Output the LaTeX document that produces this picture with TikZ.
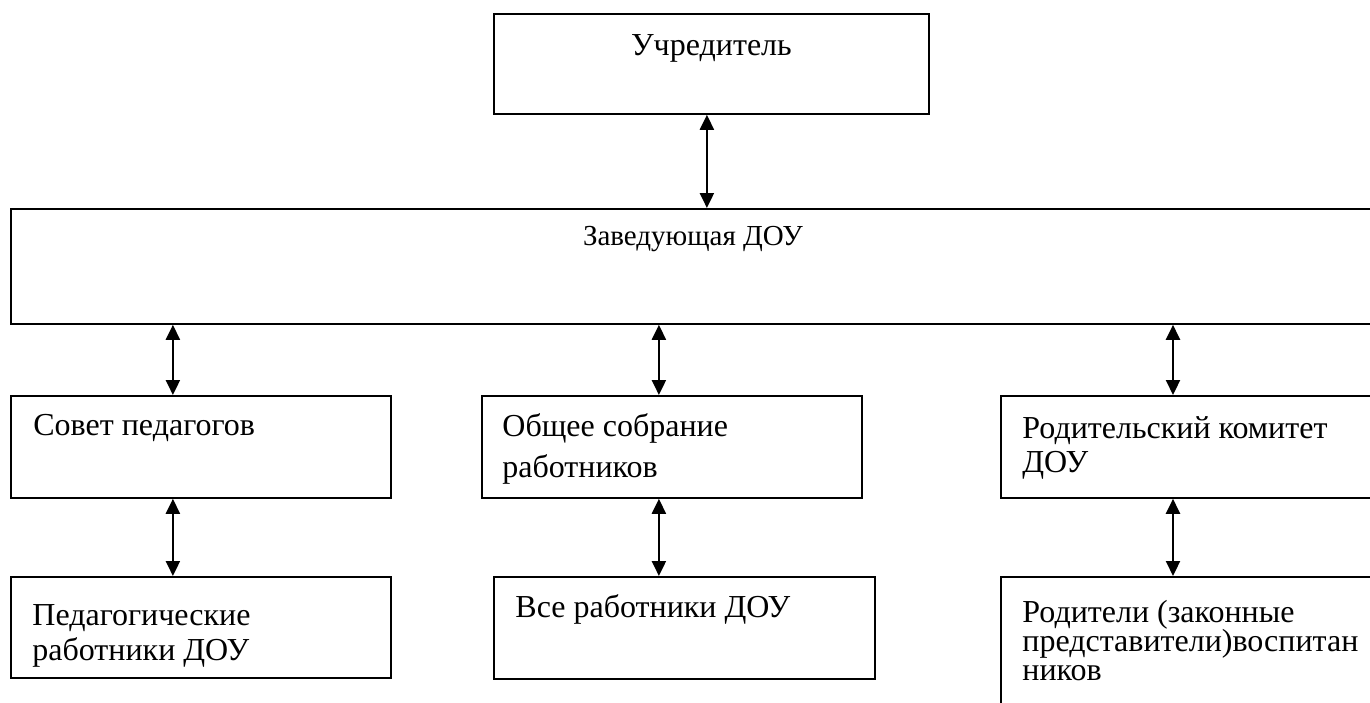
\documentclass[tikz,border=0pt]{standalone}
\usepackage{fontspec}
\setmainfont{Liberation Serif}
\usetikzlibrary{arrows.meta}

\begin{document}
\begin{tikzpicture}
        [
            x = 0.5pt, y = -0.5pt,
            box/.style = {draw, line width=0.9pt, anchor=north west, inner sep=0pt},
            txt/.style = {inner sep=0pt, align=left, anchor=base west, font=\fontsize{16pt}{17.5pt}\selectfont},
            arr/.style = {{Triangle[width=7pt,length=7.5pt]}-{Triangle[width=7pt,length=7.5pt]}, line width=1.1pt},
        ]
        \useasboundingbox (0,0) rectangle (1370,702);
        \node[box, minimum width=217.5pt, minimum height=50pt] (uchr) at (493,13) {};
        \node[box, minimum width=685pt, minimum height=57.5pt] (zav) at (10,208) {};
        \node[box, minimum width=190pt, minimum height=51pt] (sovet) at (10,395) {};
        \node[box, minimum width=190pt, minimum height=51pt] (obsh) at (481,395) {};
        \node[box, minimum width=190pt, minimum height=51pt] (rodkom) at (1000,395) {};
        \node[box, minimum width=190pt, minimum height=50.5pt] (ped) at (10,576) {};
        \node[box, minimum width=190.5pt, minimum height=51pt] (vse) at (493,576) {};
        \node[box, minimum width=190pt, minimum height=72pt] (rod) at (1000,576) {};

        \node[txt, anchor=base] (uchr-t) at ([shift={(0,42)}]uchr.north) {Учредитель};
        \node[txt, anchor=base, font=\fontsize{14.5pt}{16pt}\selectfont] (zav-t) at ([shift={(-3,37)}]zav.north) {Заведующая ДОУ};
        \node[txt] (sovet-t) at ([shift={(23,40)}]sovet.north west) {Совет педагогов};
        \node[txt, font=\fontsize{16pt}{20.5pt}\selectfont] (obsh-t) at ([shift={(21,82)}]obsh.north west) {Общее собрание\\работников};
        \node[txt, font=\fontsize{16pt}{17pt}\selectfont] (rodkom-t) at ([shift={(22,77)}]rodkom.north west) {Родительский комитет\\ДОУ};
        \node[txt] (ped-t) at ([shift={(22,84)}]ped.north west) {Педагогические\\работники ДОУ};
        \node[txt] (vse-t) at ([shift={(22,41)}]vse.north west) {Все работники ДОУ};
        \node[txt, font={\fontsize{16pt}{14.5pt}\selectfont\lineskiplimit-10pt\relax}] (rod-t) at ([shift={(22,104)}]rod.north west) {Родители (законные\\представители)воспитан\\ников};

        \draw[arr] ([shift={(-4.5,0)}]uchr.south) -- ([shift={(-4.5,0)}]uchr.south |- zav.north);
        \draw[arr] ([shift={(-28,0)}]zav.south -| sovet.north) -- ([shift={(-28,0)}]sovet.north);
        \draw[arr] ([shift={(-13,0)}]zav.south -| obsh.north) -- ([shift={(-13,0)}]obsh.north);
        \draw[arr] ([shift={(173,0)}]zav.south -| rodkom.north west) -- ([shift={(173,0)}]rodkom.north west);
        \draw[arr] ([shift={(-28,0)}]sovet.south) -- ([shift={(-28,0)}]ped.north);
        \draw[arr] ([shift={(-25.5,0)}]obsh.south -| vse.north) -- ([shift={(-25.5,0)}]vse.north);
        \draw[arr] ([shift={(173,0)}]rodkom.south west) -- ([shift={(173,0)}]rod.north west);
\end{tikzpicture}
\end{document}
